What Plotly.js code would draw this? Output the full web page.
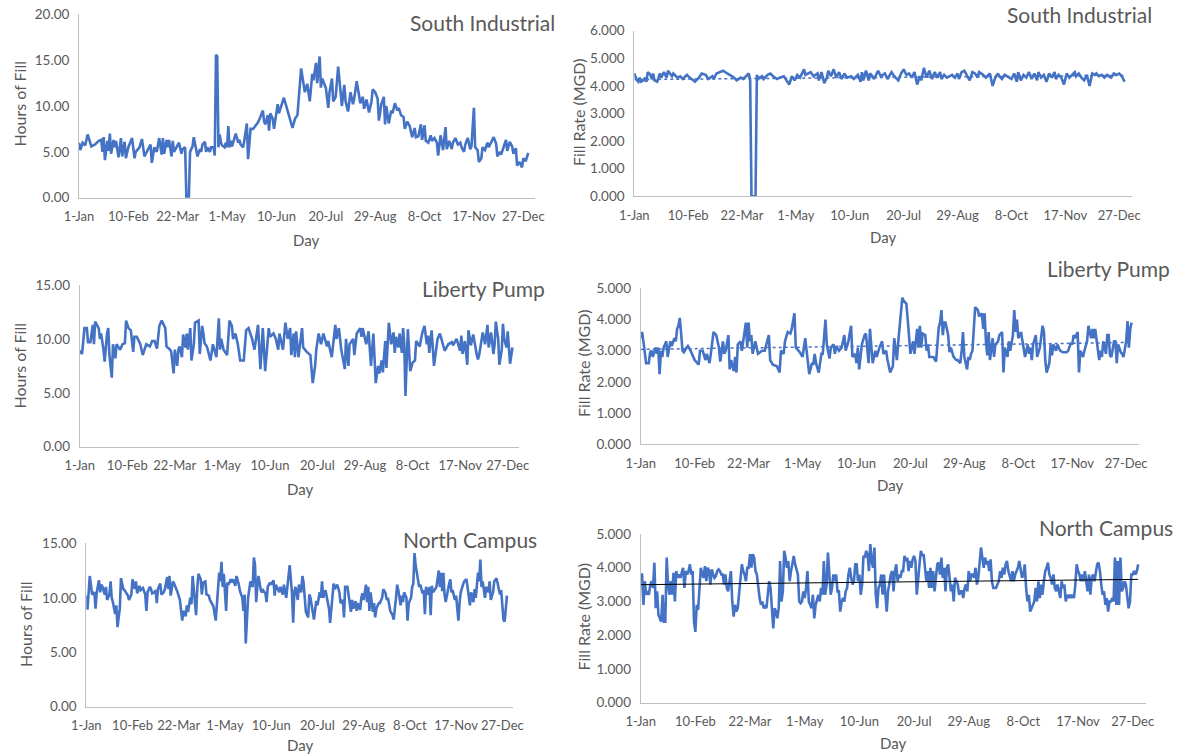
<!DOCTYPE html>
<html><head><meta charset="utf-8">
<script src="https://cdn.plot.ly/plotly-3.0.1.min.js"></script>
<style>html,body{margin:0;padding:0;background:#fff}#chart{width:1182px;height:755px}</style>
</head><body><div id="chart"></div>
<script>
// ---- category axis (day of year) ----
const tickDays = [0,40,80,120,160,200,240,280,320,360];
const tickLabels = ['1-Jan','10-Feb','22-Mar','1-May','10-Jun','20-Jul','29-Aug','8-Oct','17-Nov','27-Dec'];

// ---- South Industrial: hours of fill ----
const siHoursDay = [0,1,3,5,7,10,13,16,18,19,20,21,23,24,25,26,28,29,30,32,34,35,37,38,40,43,45,46,49,51,53,55,57,58,59,61,63,65,67,68,69,71,72,73,75,76,77,79,81,83,84,86,87,89,90,92,93,95,96,98,99,100,102,103,104,106,107,109,110,111,112,113,114,115,116,118,119,120,121,122,123,124,126,127,129,130,131,133,134,136,137,139,141,143,145,147,149,150,151,153,154,155,157,158,161,162,163,166,169,172,173,175,177,180,182,183,185,187,189,190,192,193,195,196,197,200,202,203,205,206,208,210,212,213,215,216,218,220,222,223,225,227,228,230,231,233,235,237,238,240,242,243,245,247,248,249,251,253,254,256,258,259,261,263,264,266,268,270,272,273,275,277,278,280,281,283,285,286,288,290,291,293,295,297,298,300,302,303,305,307,309,310,312,313,315,317,318,320,321,323,324,326,327,329,331,332,334,336,338,339,341,342,344,346,347,349,351,352,354,355,357,359,360,362,364];
const siHoursVal = [6.0,5.2,6.0,5.7,6.9,5.6,5.8,6.2,6.3,5.0,6.6,4.1,6.2,5.1,7.0,4.8,6.3,5.5,6.2,4.4,6.5,4.5,6.1,4.3,5.5,6.5,4.3,5.0,5.5,6.4,4.5,5.0,5.5,5.8,3.8,5.5,5.0,6.5,4.7,6.5,4.8,6.3,5.5,6.3,4.5,6.2,5.0,5.5,6.0,4.8,5.3,5.5,0,0,5.0,5.6,6.6,5.2,4.5,5.3,5.0,5.8,6.1,5.0,5.5,5.0,5.5,5.5,4.6,15.6,15.4,5.5,6.9,6.0,5.7,5.5,6.0,5.5,7.8,5.5,6.2,5.6,6.4,7.0,6.0,6.3,5.8,5.5,6.3,8.1,4.2,7.5,7.5,7.9,8.2,8.8,9.5,8.3,8.0,9.0,7.3,9.2,8.6,7.5,10.2,9.2,9.6,10.9,9.5,8.0,7.6,8.6,9.0,14.1,12.0,11.5,12.4,10.5,13.5,12.8,14.7,12.5,15.4,12.0,13.0,12.0,9.8,11.5,13.0,10.5,11.0,14.3,11.5,10.0,12.3,10.5,9.4,11.5,10.2,10.8,12.7,11.3,10.3,11.0,9.7,10.7,9.3,10.5,11.8,11.5,10.8,8.4,10.2,11.0,8.0,10.0,8.1,9.5,9.2,10.3,9.5,9.8,9.0,8.8,7.5,8.3,7.8,6.6,7.6,6.6,6.7,8.0,6.3,7.9,6.2,6.0,6.8,6.2,6.5,6.0,4.6,6.8,5.2,7.7,5.3,6.2,5.3,6.0,6.5,5.8,6.0,5.5,5.0,5.8,6.5,5.3,5.6,9.8,5.5,5.2,3.9,4.3,5.5,5.2,6.0,5.5,6.0,6.6,5.9,4.5,5.0,4.7,5.5,6.3,5.1,6.1,5.6,4.8,5.4,3.5,3.9,3.3,4.3,4.0,4.9];

// ---- South Industrial: fill rate (MGD) ----
const siRateDay = [0,2,3,4,5,7,8,9,10,12,13,14,15,17,18,19,20,22,23,24,25,27,28,29,32,34,36,39,41,44,45,48,50,53,55,58,59,61,64,66,69,71,74,76,79,81,83,85,86,87,90,91,92,93,95,96,99,101,103,106,108,111,113,115,117,119,121,123,126,127,129,131,133,136,137,139,141,143,144,146,148,150,152,154,156,158,161,163,166,168,169,170,172,174,175,176,178,181,183,186,188,191,193,196,198,200,202,204,206,208,210,212,213,215,217,219,221,223,225,227,228,230,232,234,236,238,240,241,243,245,247,249,251,253,255,256,259,261,264,266,268,270,271,273,275,277,280,282,284,285,287,289,291,293,295,297,299,300,302,304,306,308,310,312,313,315,317,319,321,323,325,327,328,330,332,334,336,338,340,342,343,345,347,349,351,352,354,356,358,360,362,364];
const siRateVal = [4.45,4.2,4.15,4.3,4.15,4.2,4.3,4.15,4.5,4.4,4.25,4.45,4.2,4.15,4.3,4.45,4.3,4.5,4.4,4.3,4.55,4.4,4.35,4.45,4.3,4.35,4.25,4.4,4.3,4.2,4.15,4.3,4.45,4.4,4.25,4.35,4.25,4.45,4.5,4.55,4.45,4.4,4.3,4.2,4.3,4.25,4.35,4.45,4.2,0,0,4.4,4.25,4.3,4.35,4.25,4.4,4.45,4.35,4.25,4.3,4.35,4.2,4.05,4.35,4.2,4.4,4.3,4.6,4.4,4.45,4.5,4.35,4.45,4.2,4.5,4.1,4.3,4.55,4.35,4.6,4.3,4.5,4.25,4.45,4.3,4.35,4.25,4.4,4.15,4.5,4.2,4.55,4.2,4.45,4.4,4.25,4.55,4.35,4.45,4.25,4.5,4.35,4.2,4.45,4.6,4.4,4.45,4.3,4.5,4.05,4.35,4.2,4.65,4.3,4.55,4.25,4.5,4.3,4.5,4.25,4.4,4.3,4.35,4.4,4.3,4.45,4.25,4.5,4.55,4.35,4.2,4.5,4.45,4.3,4.5,4.4,4.3,4.45,4.0,4.3,4.45,4.35,4.25,4.4,4.35,4.25,4.45,4.15,4.5,4.2,4.4,4.3,4.5,4.25,4.45,4.2,4.5,4.3,4.4,4.15,4.45,4.3,4.5,4.25,4.4,4.3,4.05,4.45,4.3,4.4,4.5,4.35,4.45,4.3,4.2,4.4,4.0,4.45,4.4,4.45,4.35,4.4,4.3,4.4,4.35,4.3,4.45,4.4,4.45,4.35,4.15];

// ---- Liberty Pump: hours of fill ----
const lpHoursDay = [0,2,4,6,7,9,11,12,13,16,17,18,20,21,23,24,25,27,28,30,31,32,34,36,38,39,41,43,44,45,46,48,51,53,56,59,61,63,65,67,69,72,73,76,77,79,80,82,83,84,86,87,89,90,91,93,94,96,97,100,101,103,104,105,107,110,112,115,117,118,119,121,124,126,128,129,131,133,135,138,140,142,145,147,150,152,153,154,156,159,160,163,165,167,168,171,173,175,177,178,180,181,182,184,187,188,191,194,196,198,199,201,203,205,208,209,212,215,216,218,220,222,223,224,226,227,229,230,231,233,236,237,238,241,243,245,247,249,251,252,254,255,257,258,260,262,264,265,266,268,269,271,272,273,274,276,277,278,280,282,283,286,288,290,292,293,294,296,298,300,301,303,306,307,310,313,314,317,320,321,322,324,326,327,329,331,334,335,336,339,341,343,344,346,348,349,350,352,353,355,356,357,359,360,362,364];
const lpHoursVal = [8.9,8.6,11.0,11.0,9.7,9.7,11.3,9.5,11.6,11.0,10.0,10.5,9.0,7.9,10.5,11.0,8.5,6.4,9.5,8.2,9.5,9.3,9.0,9.5,9.6,11.7,11.0,10.8,9.5,8.8,10.2,10.2,9.5,8.5,9.5,9.3,9.8,9.8,9.1,11.2,11.7,11.0,9.3,9.0,8.8,6.8,9.0,7.5,9.0,9.3,8.3,10.4,9.2,10.5,9.0,11.0,8.0,9.5,11.5,11.7,8.6,11.2,10.5,9.6,9.3,8.0,9.5,8.3,11.9,9.0,10.0,9.0,8.5,11.7,11.2,10.0,10.5,9.5,8.0,8.0,10.8,11.0,10.0,9.0,11.3,7.2,9.0,11.0,7.0,11.0,10.2,10.5,10.0,9.0,10.5,9.0,11.5,10.0,11.0,8.5,10.5,8.3,10.7,8.3,11.0,9.2,8.8,8.5,5.9,7.5,9.0,10.5,9.5,10.5,9.3,9.8,8.3,11.3,10.0,11.0,9.0,8.0,7.2,10.0,7.5,9.5,9.8,10.0,8.5,10.5,11.0,10.2,11.0,9.5,10.7,7.5,10.5,5.9,7.5,6.8,8.0,6.9,9.8,7.3,11.5,9.5,10.6,8.7,10.2,9.2,10.5,8.7,11.0,9.5,4.7,10.9,9.0,7.0,7.8,8.0,9.8,9.3,10.5,11.2,9.5,10.3,8.7,10.8,7.5,9.0,10.0,10.5,9.3,8.9,9.5,9.7,9.4,10.0,8.9,10.3,8.6,9.8,7.6,10.8,9.4,10.4,8.5,8.1,8.5,10.6,9.5,11.3,9.2,10.6,8.6,9.5,11.6,10.0,7.6,9.0,11.4,10.0,9.2,10.7,7.7,9.2];

// ---- Liberty Pump: fill rate (MGD) ----
const lpRateDay = [0,1,2,4,6,7,8,9,11,12,13,14,15,16,17,19,20,21,22,23,25,26,27,28,29,31,32,34,35,37,39,40,43,44,46,48,49,51,52,54,56,58,59,61,62,63,65,66,67,69,70,71,72,74,75,76,78,79,80,81,82,83,85,86,87,90,92,95,96,98,101,103,104,106,107,109,111,112,114,115,117,118,120,122,123,125,127,128,129,130,132,134,135,137,138,140,141,143,144,145,147,149,151,152,154,156,157,159,160,161,162,164,166,167,169,170,172,174,175,177,179,180,182,183,185,187,188,190,191,192,194,195,197,198,199,200,202,203,205,206,207,208,209,211,212,213,214,217,219,221,222,223,224,225,226,228,229,230,232,234,235,237,238,239,240,242,243,244,245,246,248,250,251,253,254,255,256,257,258,259,261,262,263,265,266,268,269,270,272,273,274,276,277,278,279,280,282,283,284,285,287,288,289,290,291,293,294,296,298,299,300,301,303,304,305,306,308,309,311,313,316,317,319,320,321,322,324,325,326,328,329,331,332,334,335,336,337,339,340,341,342,343,345,346,347,348,349,351,352,353,354,356,357,358,360,361,362,363,364];
const lpRateVal = [3.4,3.6,3.3,2.6,2.6,2.95,3.0,2.8,3.1,2.9,3.1,2.25,3.0,2.8,3.1,3.3,2.8,3.1,3.3,3.15,3.4,3.3,3.7,3.8,4.05,3.0,2.95,3.1,3.15,3.0,2.8,2.7,2.55,3.0,3.0,2.7,2.9,2.6,2.9,3.6,3.5,3.1,2.65,3.3,2.9,3.0,3.5,2.4,2.7,2.35,2.8,2.3,3.2,3.3,3.0,3.3,3.9,3.1,3.9,3.3,3.5,2.9,3.3,3.1,2.9,3.0,3.0,3.5,2.7,2.55,2.5,2.3,3.0,2.9,3.3,3.6,3.55,3.7,4.2,3.1,3.0,2.95,2.8,3.4,3.0,2.25,2.6,2.55,2.9,2.6,2.3,2.9,2.9,4.0,3.2,2.75,3.1,3.2,2.9,3.15,3.0,3.1,3.5,3.0,3.3,3.8,2.8,2.9,2.6,3.1,2.4,3.2,3.5,3.55,2.6,3.7,2.6,3.0,2.8,3.1,3.3,2.9,3.0,2.7,2.3,2.5,3.4,2.7,3.3,3.8,4.7,4.6,4.5,4.0,3.3,2.9,3.3,2.9,3.7,3.1,3.8,3.1,3.55,3.5,3.0,3.2,2.8,2.8,2.65,3.75,3.9,4.3,3.5,3.9,3.9,3.5,2.95,3.1,2.8,2.7,2.7,2.6,3.0,3.6,2.8,2.4,2.8,2.7,2.9,3.0,4.4,4.3,4.1,4.2,3.7,4.2,3.3,2.85,3.6,2.7,3.4,2.8,3.2,3.3,3.5,3.6,2.3,3.1,2.8,3.3,3.0,3.5,4.3,3.6,4.0,3.4,3.6,3.3,3.0,2.8,3.2,2.9,3.1,2.7,3.2,3.5,2.8,3.1,3.8,3.6,2.7,2.3,2.6,3.2,2.85,3.2,3.0,3.2,3.0,2.95,2.95,3.0,3.25,3.2,3.5,3.4,3.6,2.3,3.0,2.8,3.0,3.3,3.8,3.4,3.7,3.4,3.7,3.0,2.7,3.0,2.8,3.3,2.9,3.5,3.5,2.85,2.8,3.3,3.3,2.6,3.2,2.95,2.9,2.8,3.3,3.95,3.1,3.7,3.9];

// ---- North Campus: hours of fill ----
const ncHoursDay = [0,1,3,4,5,7,8,9,11,12,13,14,16,17,18,20,21,22,23,25,26,27,29,30,32,33,34,36,37,39,40,42,43,44,46,47,49,50,51,52,53,55,56,57,59,60,61,62,64,65,67,68,70,71,72,73,75,76,78,79,81,82,83,84,86,87,88,90,91,92,94,95,96,97,99,100,101,103,104,106,107,109,110,112,114,115,116,117,118,119,121,122,123,125,126,127,129,130,132,133,135,136,137,138,140,141,142,144,145,146,147,148,149,151,152,153,155,156,157,159,160,162,163,164,166,167,168,170,171,173,174,176,178,179,180,181,183,184,186,187,188,189,190,192,193,194,196,197,199,200,202,203,204,205,207,208,210,211,213,214,215,217,218,219,220,222,223,224,226,227,228,229,230,231,233,234,235,237,238,239,240,242,243,244,245,246,248,249,250,251,253,254,256,257,259,260,261,263,265,266,268,269,270,272,273,274,275,277,278,279,281,282,283,284,285,287,288,289,291,292,293,294,296,297,298,299,300,302,303,305,306,307,308,309,310,311,313,314,315,316,317,319,320,322,323,324,326,327,329,330,332,333,335,336,337,339,340,341,342,343,345,346,348,349,350,352,353,355,356,358,359,361,362,364];
const ncHoursVal = [10.2,8.9,12.0,11.0,10.3,10.5,9.0,10.5,11.6,10.5,11.2,11.0,10.3,11.0,9.8,10.3,11.5,10.0,9.6,8.5,9.3,7.3,9.0,11.8,10.8,10.7,10.5,10.2,9.8,10.3,11.7,10.8,11.5,10.4,11.1,10.7,10.9,10.6,10.3,8.8,10.5,11.0,10.8,10.4,10.5,10.7,9.5,10.8,11.3,10.3,10.5,10.8,11.9,10.8,12.0,10.2,11.5,11.3,10.8,10.5,9.8,9.0,7.9,8.8,8.3,9.3,8.7,10.0,9.4,12.0,9.0,8.4,10.8,12.2,11.7,10.3,11.4,11.5,10.3,10.2,9.8,9.4,9.2,7.9,10.8,12.3,11.5,13.3,11.0,12.2,8.8,11.4,11.2,11.7,11.4,11.7,11.1,12.0,11.2,10.6,10.0,8.8,10.3,5.8,10.0,11.1,11.5,11.0,13.7,13.0,9.6,11.0,12.0,10.7,10.5,10.7,10.4,9.6,11.0,11.4,11.2,11.6,10.2,11.2,10.8,10.5,11.0,10.3,11.2,10.0,11.0,13.0,10.4,7.7,10.5,11.0,9.8,11.2,10.5,12.0,11.4,9.8,8.7,8.2,10.3,10.0,8.3,8.0,9.7,9.3,10.5,10.0,11.5,10.0,10.7,10.0,9.0,7.7,10.5,11.3,10.8,11.2,10.9,10.5,9.5,9.8,8.2,11.0,11.0,10.3,9.3,8.7,9.8,9.0,9.7,8.8,9.5,8.9,10.0,10.4,9.8,11.2,9.6,11.0,8.8,10.5,8.7,9.5,8.2,9.0,9.5,9.5,10.0,10.8,10.4,9.8,10.0,8.8,8.4,8.0,10.0,11.2,10.7,9.3,10.2,9.6,10.5,10.0,7.9,9.5,10.0,11.0,11.3,14.1,13.0,11.5,11.0,11.2,10.4,10.7,8.5,11.0,10.3,11.0,8.4,11.1,10.5,10.8,11.0,12.5,11.0,12.3,10.6,12.3,10.3,9.6,11.0,11.3,11.7,10.5,10.7,9.8,10.2,7.9,9.5,10.5,11.2,11.5,11.7,11.0,9.3,10.5,9.6,10.8,10.0,12.3,11.5,13.5,11.0,11.5,10.0,11.0,10.5,11.5,9.8,10.5,11.5,11.8,11.3,10.3,10.7,8.0,7.8,10.2];

// ---- North Campus: fill rate (MGD), one reading per day from 1-Jan ----
const ncRateVal = [3.8,3.8,2.9,3.6,3.2,3.3,3.2,3.5,3.6,3.4,4.15,2.8,3.3,2.6,2.5,2.4,3.2,2.4,2.4,4.3,3.5,3.2,3.6,3.2,3.85,3.0,3.9,3.7,3.8,3.7,3.85,4.0,3.4,3.9,3.8,3.9,4.1,3.8,3.9,2.4,2.1,2.9,2.75,3.4,4.0,3.8,3.7,4.05,3.6,4.0,3.9,3.5,3.95,3.8,3.7,3.75,3.9,3.95,3.9,3.8,3.8,3.5,3.8,3.4,3.3,3.6,3.9,3.0,2.55,2.9,2.7,2.8,3.3,3.6,4.1,3.9,3.8,3.6,4.0,4.0,4.4,4.0,4.4,4.3,3.9,3.8,3.4,3.1,2.9,3.0,2.8,2.85,2.8,3.2,3.6,3.4,2.8,2.2,2.8,2.7,2.5,2.8,4.2,3.0,3.3,4.5,4.3,4.0,4.2,3.6,3.9,4.2,4.35,4.1,3.9,3.8,3.0,2.95,3.0,3.3,3.1,3.4,3.9,3.0,2.9,2.8,3.2,2.5,2.9,3.1,3.2,3.0,3.4,3.2,4.2,3.2,3.5,4.45,3.7,3.2,3.4,3.8,3.6,3.8,3.3,3.3,2.7,3.0,3.1,3.0,3.3,3.4,3.8,4.0,3.7,3.5,3.6,4.1,4.1,3.6,3.8,3.2,3.5,4.35,4.3,4.5,4.4,3.9,4.7,4.2,4.0,4.6,3.2,2.8,3.4,3.5,3.8,3.2,3.8,3.2,2.7,3.3,3.6,3.8,3.9,3.3,3.9,4.1,3.6,3.8,3.7,3.9,3.9,4.35,4.2,4.3,3.9,4.2,4.0,4.25,4.35,4.2,3.2,3.8,4.1,4.5,4.35,4.4,3.9,3.6,3.9,3.4,4.0,3.4,3.9,3.3,3.7,4.1,4.15,3.8,4.3,3.7,4.0,3.3,4.0,4.1,3.7,3.3,3.5,3.0,3.7,3.6,3.5,3.2,3.3,3.3,3.1,3.4,3.5,3.3,3.9,3.6,3.8,3.8,3.7,4.0,3.5,3.7,4.1,4.6,4.3,4.0,4.3,4.1,4.2,3.9,4.25,3.6,3.4,3.4,3.4,3.5,3.6,3.9,3.7,4.0,3.8,4.1,4.2,3.9,3.7,3.6,3.9,3.6,3.8,3.9,4.0,4.2,3.9,3.7,3.8,4.1,3.4,3.0,3.2,2.7,2.8,2.9,3.0,3.4,3.0,3.6,3.1,3.5,3.2,3.6,3.9,4.0,4.15,3.8,3.7,3.5,3.8,3.4,3.3,3.5,3.3,3.1,3.6,3.4,3.5,3.0,3.2,3.1,3.2,3.1,3.2,3.1,3.5,4.1,3.9,3.8,3.6,3.8,3.6,3.9,3.6,3.3,3.8,3.2,3.7,3.8,3.6,3.9,4.1,4.15,3.9,3.5,3.2,3.3,2.9,3.1,2.7,3.0,3.0,3.1,3.0,4.3,2.9,4.2,2.9,4.3,3.3,3.4,3.6,3.5,3.2,2.8,3.0,3.8,3.8,3.9,3.8,3.9,4.1];
const ncRateDay = ncRateVal.map((_, i) => i);

// ---- drawing ----
const W = 1182, H = 755;
const TXT = '#595959', BLUE = '#4472C4', AXC = '#BFBFBF', FONT = 'Lato, "Open Sans", sans-serif';
const fx = px => px / W, fy = py => 1 - py / H;

const panels = [
  {title:'South Industrial', ytitle:'Hours of Fill', days:siHoursDay, vals:siHoursVal,
   box:[79,535,14.3,197.7], yr:[0,20], dt:5, fmt:'.2f', trend:null,
   tpos:[557,22.5], ypos:[18.5,104], dpos:[306,240]},
  {title:'South Industrial', ytitle:'Fill Rate (MGD)', days:siRateDay, vals:siRateVal,
   box:[634.3,1132,30.7,196.3], yr:[0,6], dt:1, fmt:'.3f', trend:{color:BLUE, width:1.5, dash:'dot'},
   tpos:[1154,15], ypos:[578,113], dpos:[883,236.5]},
  {title:'Liberty Pump', ytitle:'Hours of Fill', days:lpHoursDay, vals:lpHoursVal,
   box:[79.7,519,285,446.7], yr:[0,15], dt:5, fmt:'.2f', trend:null,
   tpos:[547,288.5], ypos:[18.5,366], dpos:[300,489.5]},
  {title:'Liberty Pump', ytitle:'Fill Rate (MGD)', days:lpRateDay, vals:lpRateVal,
   box:[640.7,1139,288.3,444.3], yr:[0,5], dt:1, fmt:'.3f', trend:{color:BLUE, width:1.5, dash:'dot'},
   tpos:[1172,268.5], ypos:[583,364], dpos:[890,485]},
  {title:'North Campus', ytitle:'Hours of Fill', days:ncHoursDay, vals:ncHoursVal,
   box:[86.3,513.3,543.3,706.7], yr:[0,15], dt:5, fmt:'.2f', trend:null,
   tpos:[538.5,539.5], ypos:[25,625], dpos:[300,744.5]},
  {title:'North Campus', ytitle:'Fill Rate (MGD)', days:ncRateDay, vals:ncRateVal,
   box:[640.7,1145.7,534,702.7], yr:[0,5], dt:1, fmt:'.3f', trend:{color:'#000000', width:1, dash:'solid'},
   tpos:[1175,527], ypos:[583,617.5], dpos:[893,742.5]}
];

function linFit(xs, ys) {
  const n = Math.min(xs.length, ys.length);
  let sx = 0, sy = 0, sxx = 0, sxy = 0;
  for (let i = 0; i < n; i++) { sx += xs[i]; sy += ys[i]; sxx += xs[i]*xs[i]; sxy += xs[i]*ys[i]; }
  const b = (n*sxy - sx*sy) / (n*sxx - sx*sx);
  const a = (sy - b*sx) / n;
  return {a, b};
}

const data = [];
const layout = {
  width: W, height: H, margin: {l:0, r:0, t:0, b:0},
  paper_bgcolor: '#fff', plot_bgcolor: 'rgba(0,0,0,0)',
  showlegend: false, font: {family: FONT, color: TXT, size: 13},
  annotations: []
};

panels.forEach((p, i) => {
  const k = i === 0 ? '' : String(i + 1);
  const xa = 'x' + k, ya = 'y' + k;
  const n = Math.min(p.days.length, p.vals.length);
  const xs = p.days.slice(0, n), ys = p.vals.slice(0, n);
  data.push({type:'scatter', mode:'lines', x:xs, y:ys, xaxis:xa, yaxis:ya,
    line:{color:BLUE, width:2.6}, hoverinfo:'x+y'});
  if (p.trend) {
    const f = linFit(xs, ys);
    const x0 = xs[0], x1 = xs[n-1];
    data.push({type:'scatter', mode:'lines', x:[x0, x1], y:[f.a + f.b*x0, f.a + f.b*x1],
      xaxis:xa, yaxis:ya, line:p.trend, hoverinfo:'skip'});
  }
  const [l, r, t, b] = p.box;
  layout['xaxis' + k] = {
    domain:[fx(l), fx(r)], anchor:ya, range:[0, 369.5], fixedrange:true,
    tickmode:'array', tickvals:tickDays, ticktext:tickLabels,
    showgrid:false, zeroline:false, showline:true, linecolor:AXC, linewidth:1,
    ticks:'', ticklabelstandoff:7, tickfont:{family:FONT, size:13, color:TXT}
  };
  layout['yaxis' + k] = {
    domain:[fy(b), fy(t)], anchor:xa, range:p.yr, dtick:p.dt, tick0:0, tickformat:p.fmt,
    fixedrange:true, showgrid:false, zeroline:false, showline:true, linecolor:AXC, linewidth:1,
    ticks:'', ticklabelstandoff:6, tickfont:{family:FONT, size:13.5, color:TXT}
  };
  layout.annotations.push(
    {text:p.title, xref:'paper', yref:'paper', x:fx(p.tpos[0]), y:fy(p.tpos[1]),
     xanchor:'right', yanchor:'middle', showarrow:false, font:{family:FONT, size:21, color:TXT}},
    {text:p.ytitle, xref:'paper', yref:'paper', x:fx(p.ypos[0]), y:fy(p.ypos[1]),
     xanchor:'center', yanchor:'middle', textangle:-90, showarrow:false, font:{family:FONT, size:16, color:TXT}},
    {text:'Day', xref:'paper', yref:'paper', x:fx(p.dpos[0]), y:fy(p.dpos[1]),
     xanchor:'center', yanchor:'middle', showarrow:false, font:{family:FONT, size:15, color:TXT}}
  );
});

Plotly.newPlot('chart', data, layout, {displayModeBar:false, staticPlot:true});
</script>
</body></html>
